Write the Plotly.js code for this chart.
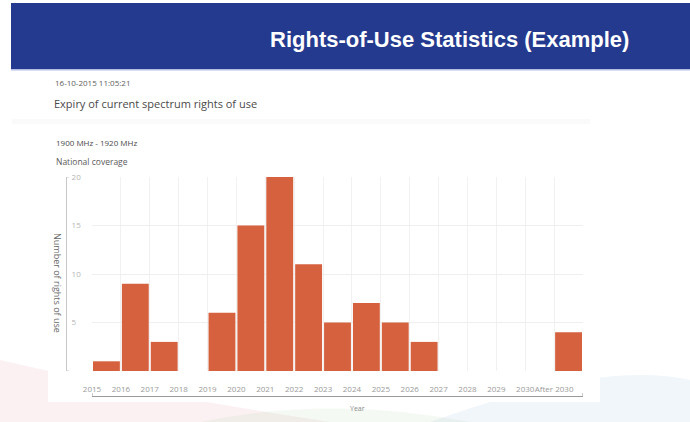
<!DOCTYPE html>
<html>
<head>
<meta charset="utf-8">
<script src="https://cdn.plot.ly/plotly-3.0.1.min.js"></script>
<style>
  html, body { margin: 0; padding: 0; background: #ffffff; }
  #chart { width: 690px; height: 422px; }
</style>
</head>
<body>
<div id="chart"></div>
<script>
// ---- data ----
const yearLabels = ['2015','2016','2017','2018','2019','2020','2021','2022','2023','2024','2025','2026','2027','2028','2029','2030','After 2030'];
const rightsCount = [1, 9, 3, 0, 6, 15, 20, 11, 5, 7, 5, 3, 0, 0, 0, 0, 4];
const yTickValues = [5, 10, 15, 20];

const slideTitle = 'Rights-of-Use Statistics (Example)';
const timestamp = '16-10-2015 11:05:21';
const chartTitle = 'Expiry of current spectrum rights of use';
const bandLabel = '1900 MHz - 1920 MHz';
const coverageLabel = 'National coverage';
const yTitle = 'Number of rights of use';
const xTitle = 'Year';

// ---- helpers (pixel -> paper) ----
const W = 690, H = 422;
const px = v => v / W;
const py = v => 1 - v / H;

const binCenters = yearLabels.map((_, i) => i + 0.5);
const tickVals = yearLabels.map((_, i) => i).concat([yearLabels.length]);
const tickText = yearLabels.concat(['']);

const trace = {
  type: 'bar',
  x: binCenters,
  y: rightsCount,
  width: 0.93,
  marker: { color: '#d6613f', line: { width: 0 } },
  hoverinfo: 'skip'
};

const fontFam = '"Open Sans", "DejaVu Sans", sans-serif';

const layout = {
  width: W, height: H,
  margin: { l: 0, r: 0, t: 0, b: 0 },
  paper_bgcolor: '#ffffff',
  plot_bgcolor: 'rgba(0,0,0,0)',
  showlegend: false,
  font: { family: fontFam },
  xaxis: {
    domain: [px(92), px(583)],
    range: [0, yearLabels.length],
    anchor: 'free',
    side: 'top',
    position: py(396),
    tickmode: 'array',
    tickvals: tickVals,
    ticktext: tickText,
    tickangle: 0,
    ticks: '',
    ticklabelstandoff: 1,
    showline: true,
    linecolor: '#9a9a9a',
    linewidth: 1,
    showgrid: true,
    gridcolor: '#f1f1f1',
    gridwidth: 1,
    zeroline: false,
    tickfont: { size: 8, color: '#9a9a9a', family: fontFam },
    fixedrange: true
  },
  yaxis: {
    domain: [py(371), py(177)],
    range: [0, 20],
    anchor: 'free',
    side: 'right',
    position: px(66),
    tickmode: 'array',
    tickvals: yTickValues,
    ticks: '',
    ticklabelstandoff: 3,
    showline: true,
    linecolor: '#c8c8c8',
    linewidth: 1,
    showgrid: true,
    gridcolor: '#efefef',
    gridwidth: 1,
    zeroline: false,
    tickfont: { size: 8, color: '#b5b5b5', family: fontFam },
    fixedrange: true
  },
  shapes: [
    // faint background swooshes at the bottom of the slide
    { type: 'path', xref: 'paper', yref: 'paper', layer: 'below',
      path: `M 0 ${py(360)} Q ${px(150)} ${py(395)} ${px(330)} ${py(422)} L 0 ${py(422)} Z`,
      fillcolor: 'rgba(220,120,140,0.10)', line: { width: 0 } },
    { type: 'path', xref: 'paper', yref: 'paper', layer: 'below',
      path: `M ${px(200)} ${py(422)} Q ${px(330)} ${py(395)} ${px(470)} ${py(422)} Z`,
      fillcolor: 'rgba(150,200,140,0.10)', line: { width: 0 } },
    { type: 'path', xref: 'paper', yref: 'paper', layer: 'below',
      path: `M ${px(430)} ${py(422)} Q ${px(600)} ${py(360)} ${px(690)} ${py(380)} L ${px(690)} ${py(422)} Z`,
      fillcolor: 'rgba(140,180,210,0.12)', line: { width: 0 } },
    // white screenshot box
    { type: 'rect', xref: 'paper', yref: 'paper', layer: 'below',
      x0: px(48), x1: px(600), y0: py(402), y1: py(69),
      fillcolor: '#ffffff', line: { width: 0 } },
    // header bar
    { type: 'rect', xref: 'paper', yref: 'paper', layer: 'below',
      x0: px(11), x1: 1, y0: py(69), y1: py(3),
      fillcolor: '#243a8f', line: { width: 0 } },
    { type: 'rect', xref: 'paper', yref: 'paper', layer: 'below',
      x0: px(11), x1: 1, y0: py(70.5), y1: py(69),
      fillcolor: '#b4bde6', line: { width: 0 } },
    // faint divider under chart title
    { type: 'rect', xref: 'paper', yref: 'paper', layer: 'below',
      x0: px(12), x1: px(590), y0: py(124), y1: py(119),
      fillcolor: '#fafafa', line: { width: 0 } },
    // end ticks of the x axis bracket
    { type: 'line', xref: 'x', yref: 'paper', layer: 'above',
      x0: 0, x1: 0, y0: py(396), y1: py(393),
      line: { color: '#9a9a9a', width: 1 } },
    { type: 'line', xref: 'x', yref: 'paper', layer: 'above',
      x0: yearLabels.length, x1: yearLabels.length, y0: py(396), y1: py(393),
      line: { color: '#9a9a9a', width: 1 } },
    // small end ticks of the y axis line
    { type: 'line', xref: 'paper', yref: 'y', layer: 'above',
      x0: px(66), x1: px(69), y0: 20, y1: 20,
      line: { color: '#c8c8c8', width: 1 } },
    { type: 'line', xref: 'paper', yref: 'y', layer: 'above',
      x0: px(66), x1: px(69), y0: 0, y1: 0,
      line: { color: '#c8c8c8', width: 1 } }
  ],
  annotations: [
    { text: '<b>' + slideTitle + '</b>', xref: 'paper', yref: 'paper',
      x: px(449), y: py(39), xanchor: 'center', yanchor: 'middle', showarrow: false,
      font: { family: 'Liberation Sans, Arial, sans-serif', size: 22, color: '#ffffff' } },
    { text: timestamp, xref: 'paper', yref: 'paper',
      x: px(53), y: py(82), xanchor: 'left', yanchor: 'middle', showarrow: false,
      font: { family: fontFam, size: 8, color: '#5e5e5e' } },
    { text: chartTitle, xref: 'paper', yref: 'paper',
      x: px(52), y: py(103), xanchor: 'left', yanchor: 'middle', showarrow: false,
      font: { family: fontFam, size: 11, color: '#4a4a4a' } },
    { text: bandLabel, xref: 'paper', yref: 'paper',
      x: px(54), y: py(142), xanchor: 'left', yanchor: 'middle', showarrow: false,
      font: { family: fontFam, size: 8, color: '#4a4a4a' } },
    { text: coverageLabel, xref: 'paper', yref: 'paper',
      x: px(54), y: py(161), xanchor: 'left', yanchor: 'middle', showarrow: false,
      font: { family: fontFam, size: 8.5, color: '#5a5a5a' } },
    { text: yTitle, xref: 'paper', yref: 'paper',
      x: px(58), y: py(283), xanchor: 'center', yanchor: 'middle', showarrow: false,
      textangle: 90,
      font: { family: fontFam, size: 9, color: '#6a6a6a' } },
    { text: xTitle, xref: 'paper', yref: 'paper',
      x: px(357), y: py(408), xanchor: 'center', yanchor: 'middle', showarrow: false,
      font: { family: fontFam, size: 7, color: '#8a8a8a' } }
  ]
};

Plotly.newPlot('chart', [trace], layout, { displayModeBar: false, staticPlot: true });
</script>
</body>
</html>
